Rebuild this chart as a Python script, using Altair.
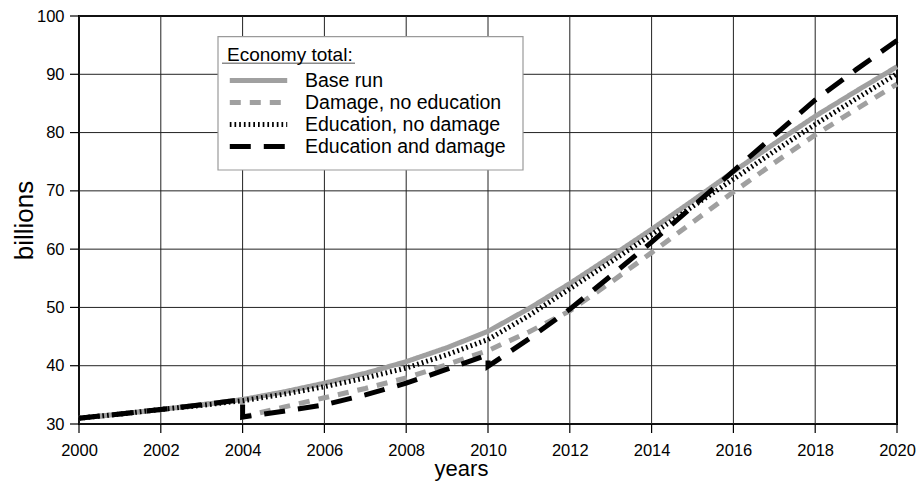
import altair as alt
import pandas as pd

series_names = ["Base run", "Damage, no education", "Education, no damage", "Education and damage"]

x_ticks = list(range(2000, 2021, 2))
y_ticks = list(range(30, 101, 10))

base_years = list(range(2000, 2021))
base_vals = [31.0, 31.7, 32.5, 33.3, 34.2, 35.5, 37.0, 38.7, 40.7, 43.1, 45.9,
             49.8, 54.1, 58.7, 63.4, 68.3, 73.3, 78.1, 82.8, 87.1, 91.3]

dmg_years = [2000, 2001, 2002, 2003, 2004, 2004] + list(range(2005, 2021))
dmg_vals = [31.0, 31.7, 32.5, 33.3, 34.2, 31.2, 32.9, 34.5, 36.1, 37.9, 40.2,
            42.6, 45.8, 49.4, 54.3, 59.4, 64.6, 69.8, 74.8, 79.6, 84.0, 88.3]

edu_years = list(range(2000, 2021))
edu_vals = [31.0, 31.7, 32.5, 33.2, 34.0, 35.1, 36.4, 37.9, 39.6, 41.9, 44.5,
            48.6, 53.2, 57.8, 62.5, 67.3, 72.0, 76.8, 81.4, 85.8, 90.1]

both_years = [2000, 2001, 2002, 2003, 2004, 2004, 2005, 2006, 2007, 2008, 2009,
              2010, 2010] + list(range(2011, 2021))
both_vals = [31.0, 31.7, 32.5, 33.3, 34.2, 31.2, 32.2, 33.3, 35.0, 37.0, 39.4,
             41.9, 39.9, 44.6, 49.7, 55.4, 61.2, 67.3, 73.4, 79.5, 85.6, 90.8, 95.8]

colors = ["#a0a0a0", "#a0a0a0", "#000000", "#000000"]
dashes = [[1, 0], [11, 9], [1.7, 3], [21, 13]]
widths = [5, 5, 2.2, 1.8]

rows = []
for name, ys, vs in [(series_names[0], base_years, base_vals),
                     (series_names[1], dmg_years, dmg_vals),
                     (series_names[2], edu_years, edu_vals),
                     (series_names[3], both_years, both_vals)]:
    for i, (yr, v) in enumerate(zip(ys, vs)):
        rows.append({"series": name, "year": yr, "value": v, "idx": i})
df = pd.DataFrame(rows)

FONT = "Liberation Sans"
PLOT_H = 408

xscale = alt.Scale(domain=[2000, 2020], nice=False, zero=False)
yscale = alt.Scale(domain=[30, 100], nice=False, zero=False)

leg = alt.Legend(
    title="Economy total:", orient="none", legendX=139, legendY=20.7,
    padding=9, symbolType="stroke", symbolSize=3300, clipHeight=21.6,
    labelFontSize=19.5, titleFontSize=19, titleFontWeight="normal",
    titleColor="black", labelColor="black", labelFont=FONT, titleFont=FONT,
    labelOffset=15, rowPadding=0, titlePadding=5, labelLimit=400, titleLimit=400,
)

x_axis = alt.Axis(values=x_ticks, format="d", title="years", grid=False, ticks=False,
                  domain=False, tickSize=0, labelPadding=18,
                  titleX=382, titleY=51, titleBaseline="alphabetic", titleFontSize=22)
y_axis = alt.Axis(values=y_ticks, title="billions", grid=False, ticks=False,
                  domain=False, tickSize=0, labelPadding=15,
                  titleX=-47, titleBaseline="alphabetic", titleFontSize=26)

lines = alt.Chart(df).mark_line(strokeCap="butt").encode(
    x=alt.X("year:Q", scale=xscale, axis=x_axis),
    y=alt.Y("value:Q", scale=yscale, axis=y_axis),
    color=alt.Color("series:N", scale=alt.Scale(domain=series_names, range=colors), legend=leg),
    strokeDash=alt.StrokeDash("series:N", scale=alt.Scale(domain=series_names, range=dashes), legend=leg),
    strokeWidth=alt.StrokeWidth("series:N", scale=alt.Scale(domain=series_names, range=widths), legend=leg),
    order=alt.Order("idx:Q"),
)

xt_df = pd.DataFrame({"year": x_ticks})
yt_df = pd.DataFrame({"value": y_ticks})

vgrid = alt.Chart(xt_df).mark_rule(color="#222222", strokeWidth=1).encode(
    x=alt.X("year:Q", scale=xscale, axis=x_axis))
hgrid = alt.Chart(yt_df).mark_rule(color="#222222", strokeWidth=1).encode(
    y=alt.Y("value:Q", scale=yscale, axis=y_axis))
xticks = alt.Chart(xt_df).mark_rule(color="black", strokeWidth=1.2).encode(
    x=alt.X("year:Q", scale=xscale, axis=x_axis),
    y=alt.value(PLOT_H), y2=alt.value(PLOT_H + 9))
yticks = alt.Chart(yt_df).mark_rule(color="black", strokeWidth=1.2).encode(
    y=alt.Y("value:Q", scale=yscale, axis=y_axis),
    x=alt.value(-9), x2=alt.value(0))

box_df = pd.DataFrame({"k": [0]})
box = alt.Chart(box_df).mark_rect(fill="white", stroke="#9a9a9a", strokeWidth=1.2).encode(
    x=alt.value(139), x2=alt.value(444), y=alt.value(20.7), y2=alt.value(154)
)
underline = alt.Chart(box_df).mark_rule(color="#8a8a8a", strokeWidth=1.5).encode(
    x=alt.value(143), x2=alt.value(276), y=alt.value(47.3)
)

chart = alt.layer(vgrid, hgrid, xticks, yticks, box, underline, lines).properties(
    width=818, height=PLOT_H,
    autosize=alt.AutoSizeParams(type="none"),
    padding={"left": 79, "top": 16, "right": 24, "bottom": 67},
    background="white",
).configure_view(
    stroke="black", strokeWidth=2
).configure_axis(
    labelColor="black", titleColor="black",
    labelFont=FONT, titleFont=FONT, labelFontSize=16.5,
    titleFontWeight="normal", labelFlush=False, labelOverlap=False,
)

chart.save("out.html", embed_options={"renderer": "svg", "actions": False})
